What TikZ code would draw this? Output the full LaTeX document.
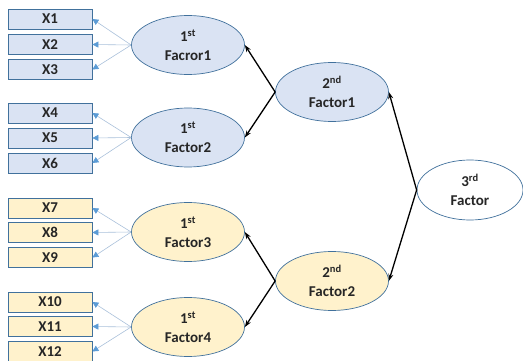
\documentclass[tikz,border=0pt]{standalone}
\usepackage{fontspec}
\setmainfont{Carlito}
\usepackage{tikz}
\usetikzlibrary{shapes.geometric, arrows.meta}

\definecolor{boxblue}{HTML}{DAE3F3}
\definecolor{boxyellow}{HTML}{FFF2CC}
\definecolor{edgeblue}{HTML}{41719C}
\definecolor{linkgray}{HTML}{A9C0DA}
\definecolor{tipblue}{HTML}{5B9BD5}
\definecolor{inkgray}{HTML}{262626}

\begin{document}
\begin{tikzpicture}[
        x=1pt, y=-1pt,
        item box/.style = {rectangle, draw=edgeblue, line width=0.8pt, inner sep=0pt, minimum width=84pt, minimum height=20pt, text=inkgray, font=\bfseries\fontsize{15}{16}\selectfont},
        factor ell/.style = {ellipse, draw=edgeblue, line width=0.7pt, inner sep=0pt, minimum width=113pt, minimum height=59pt, align=center, text=inkgray, font=\bfseries\fontsize{15}{19}\selectfont},  % Style for factors
        load arrow/.style = {draw=linkgray, line width=0.6pt, -{Triangle[length=6pt, width=6pt, color=tipblue]}},
        path arrow/.style = {draw=black, line width=1.3pt, -{Stealth[length=7pt, width=5pt]}},
        ]
        \useasboundingbox (0,0) rectangle (523,361);

        % Observed items
        \node[item box, fill=boxblue] (X1) at (50, 19) {X1};
        \node[item box, fill=boxblue] (X2) at (50, 44.5) {X2};
        \node[item box, fill=boxblue] (X3) at (50, 69.5) {X3};
        \node[item box, fill=boxblue] (X4) at (50, 113) {X4};
        \node[item box, fill=boxblue] (X5) at (50, 138) {X5};
        \node[item box, fill=boxblue] (X6) at (50, 163) {X6};
        \node[item box, fill=boxyellow] (X7) at (50, 208) {X7};
        \node[item box, fill=boxyellow] (X8) at (50, 232.5) {X8};
        \node[item box, fill=boxyellow] (X9) at (50, 257.5) {X9};
        \node[item box, fill=boxyellow] (X10) at (50, 302) {X10};
        \node[item box, fill=boxyellow] (X11) at (50, 326.5) {X11};
        \node[item box, fill=boxyellow] (X12) at (50, 351.5) {X12};

        % First order factors
        \node[factor ell, fill=boxblue] (F11) at (188, 45) {1\textsuperscript{st}\\Facror1};
        \node[factor ell, fill=boxblue] (F12) at (188, 137.5) {1\textsuperscript{st}\\Factor2};
        \node[factor ell, fill=boxyellow] (F13) at (188, 232) {1\textsuperscript{st}\\Factor3};
        \node[factor ell, fill=boxyellow] (F14) at (188, 327) {1\textsuperscript{st}\\Factor4};

        % Second order factors
        \node[factor ell, fill=boxblue] (F21) at (332, 92) {2\textsuperscript{nd}\\Factor1};
        \node[factor ell, fill=boxyellow] (F22) at (332, 281) {2\textsuperscript{nd}\\Factor2};

        % Third order factor
        \node[factor ell, fill=white, minimum width=106pt, minimum height=60pt] (F3) at (470, 190) {3\textsuperscript{rd}\\Factor};

        % Loadings on items
        \draw[load arrow] (F11.west) -- (X1.east);
        \draw[load arrow] (F11.west) -- (X2.east);
        \draw[load arrow] (F11.west) -- (X3.east);
        \draw[load arrow] (F12.west) -- (X4.east);
        \draw[load arrow] (F12.west) -- (X5.east);
        \draw[load arrow] (F12.west) -- (X6.east);
        \draw[load arrow] (F13.west) -- (X7.east);
        \draw[load arrow] (F13.west) -- (X8.east);
        \draw[load arrow] (F13.west) -- (X9.east);
        \draw[load arrow] (F14.west) -- (X10.east);
        \draw[load arrow] (F14.west) -- (X11.east);
        \draw[load arrow] (F14.west) -- (X12.east);

        % Higher order paths
        \draw[path arrow] (F21.west) -- (F11.east);
        \draw[path arrow] (F21.west) -- (F12.east);
        \draw[path arrow] (F22.west) -- (F13.east);
        \draw[path arrow] (F22.west) -- (F14.east);
        \draw[path arrow] (F3.west) -- (F21.east);
        \draw[path arrow] (F3.west) -- (F22.east);
    \end{tikzpicture}
\end{document}
